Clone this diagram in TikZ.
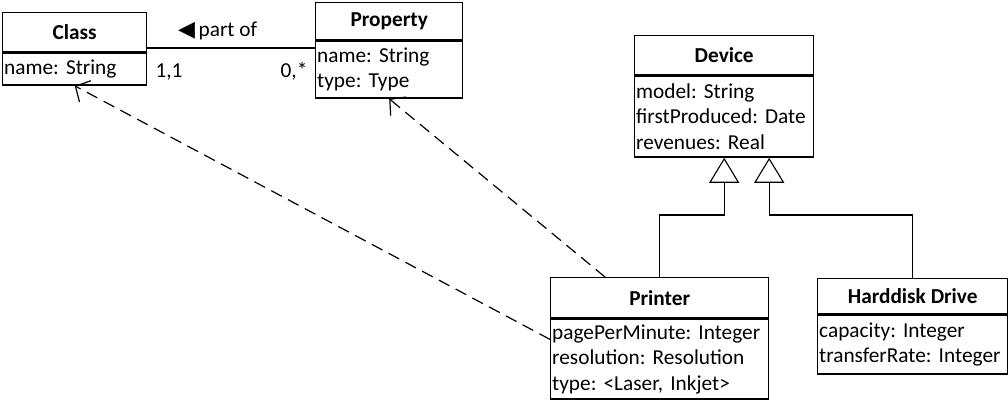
\documentclass[tikz,border=0pt]{standalone}
\usepackage{fontspec}
\setmainfont{Carlito}
\newfontfamily\symfont{DejaVu Sans}
\usetikzlibrary{arrows.meta}
\frenchspacing

\tikzset{
  txt/.style={font=\fontsize{21.3}{25.5}\selectfont},
  classhead/.style 2 args={draw, line width=1.4pt, anchor=north west, inner sep=0pt,
    minimum width=#1, minimum height=#2, font=\fontsize{21.3}{25.5}\selectfont\bfseries},
  classattr/.style 2 args={draw, line width=1.4pt, anchor=north west, align=left,
    inner xsep=1.5pt, inner ysep=0pt, text width=#1-3pt, minimum height=#2,
    font=\fontsize{21.3}{25.5}\selectfont},
  assoc/.style={line width=1.1pt},
  gen/.style={line width=1.1pt, -{Triangle[open, length=25pt, width=30pt, line width=1.1pt]}},
  dep/.style={line width=1.2pt, dash pattern=on 12pt off 7pt,
    -{Straight Barb[length=11pt, width=24pt, line width=1.2pt]}},
}

\begin{document}
\begin{tikzpicture}[x=1pt, y=-1pt]
\useasboundingbox (0,0) rectangle (1008,401);

% Class
\node[classhead={144pt}{39pt}] (clsH) at (2,12) {Class};
\node[classattr={144pt}{32pt}] (clsA) at (clsH.south west) {name: String};

% Property
\node[classhead={147pt}{37pt}] (propH) at (315,2) {Property};
\node[classattr={147pt}{57pt}] (propA) at (propH.south west) {name: String\\type: Type};

% Device
\node[classhead={179pt}{39pt}] (devH) at (634,35) {Device};
\node[classattr={179pt}{81pt}] (devA) at (devH.south west)
  {model: String\\firstProduced: Date\\revenues: Real};

% Printer
\node[classhead={218pt}{40pt}] (prnH) at (550,277) {Printer};
\node[classattr={218pt}{80pt}] (prnA) at (prnH.south west)
  {pagePerMinute: Integer\\resolution: Resolution\\type: <Laser, Inkjet>};

% Harddisk Drive
\node[classhead={190pt}{35pt}] (hddH) at (817,278) {Harddisk Drive};
\node[classattr={190pt}{59pt}] (hddA) at (hddH.south west)
  {capacity: Integer\\transferRate: Integer};

% Association Class -- Property
\coordinate (assocY) at (0,48);
\draw[assoc] (clsH.east |- assocY) -- (propA.west |- assocY);
\node[txt, anchor=west, inner sep=0pt] (partof) at (178,31)
  {{\symfont\fontsize{22}{25}\selectfont ◀}\,part of};
\node[txt, inner sep=0pt] (m11) at (169,72) {1,1};
\node[txt, inner sep=0pt] (m0s) at (294,71) {0,*};

% Generalisations
\coordinate (bendY) at (0,215);
\coordinate (tipA) at (devA.south);
\coordinate (tipB) at ([xshift=45pt]devA.south);
\draw[gen] (prnH.north) -- (prnH.north |- bendY) -- (tipA |- bendY) -- (tipA);
\draw[gen] (hddH.north) -- (hddH.north |- bendY) -- (tipB |- bendY) -- (tipB);

% Dependencies
\coordinate (depA) at ([yshift=-21pt]prnA.north west);
\coordinate (depB) at ([xshift=55pt]prnH.north west);
\draw[dep] (depA) -- (clsA.south);
\draw[dep] (depB) -- (propA.south);
\end{tikzpicture}
\end{document}
